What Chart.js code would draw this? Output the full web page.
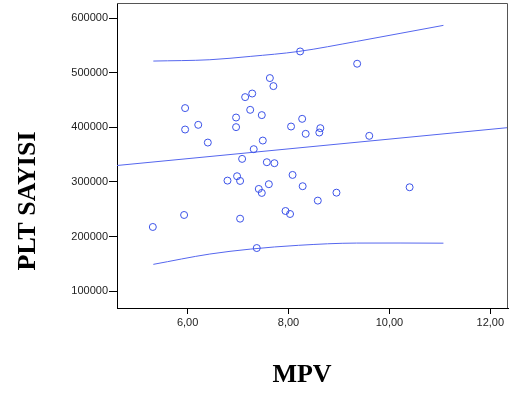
<!DOCTYPE html>
<html>
<head>
<meta charset="utf-8">
<script src="https://cdn.jsdelivr.net/npm/chart.js@4.4.1/dist/chart.umd.min.js"></script>
<style>
  html, body { margin: 0; padding: 0; background: #ffffff; }
  #wrap { width: 509px; height: 394px; position: relative; }
</style>
</head>
<body>
<div id="wrap"><canvas id="c" width="509" height="394"></canvas></div>
<script>
// ---- Data ----
const mpv = [5.31, 5.93, 5.95, 5.95, 6.21, 6.40, 6.79, 6.96, 6.96, 6.98, 7.04, 7.04, 7.08, 7.14,
  7.28, 7.24, 7.31, 7.37, 7.41, 7.47, 7.47, 7.49, 7.57, 7.61, 7.63, 7.70, 7.72, 7.94, 8.03,
  8.05, 8.08, 8.23, 8.27, 8.28, 8.34, 8.58, 8.61, 8.63, 8.95, 9.36, 9.60, 10.40];
const plt = [217500, 239500, 435400, 396100, 404700, 372200, 302500, 418100, 400500, 310500,
  301900, 232700, 342300, 455500, 462100, 432200, 360100, 178900, 287200, 279900, 422500,
  375900, 336200, 295900, 490400, 475700, 334400, 246800, 241300, 401600, 312900, 539200,
  415700, 292200, 388200, 265800, 390600, 398600, 280400, 516700, 384500, 290300];

// fit line (read at plot edges)
const fitX = [4.6, 12.35];
const fitY = [330200, 399600];

// interval curves
const bandX = [5.32, 6.44, 7.24, 8.20, 9.35, 10.21, 11.07];
const upperY = [521600, 524000, 530100, 539200, 557600, 572300, 587000];
const lowerY = [149000, 167900, 176900, 183900, 188000, 188100, 187800];

// axis ticks
const xTicks = [6, 8, 10, 12];
const yTicks = [100000, 200000, 300000, 400000, 500000, 600000];
const xTitle = 'MPV';
const yTitle = 'PLT SAYISI';

const zip = (xs, ys) => xs.map((x, i) => ({ x: x, y: ys[i] }));

const lineColor = '#5566ee';
const pointColor = '#3b52e8';

const framePlugin = {
  id: 'frame',
  afterDraw(chart) {
    const ctx = chart.ctx;
    const a = chart.chartArea;
    ctx.save();
    ctx.strokeStyle = '#555555';
    ctx.lineWidth = 1;
    ctx.beginPath();
    ctx.moveTo(a.left, a.top + 0.5);
    ctx.lineTo(a.right - 0.5, a.top + 0.5);
    ctx.lineTo(a.right - 0.5, a.bottom);
    ctx.stroke();
    // titles
    ctx.fillStyle = '#000000';
    ctx.font = 'bold 26px "Liberation Serif", "Times New Roman", serif';
    ctx.textAlign = 'center';
    ctx.textBaseline = 'middle';
    ctx.fillText(xTitle, 302, 375);
    ctx.translate(28, 201);
    ctx.rotate(-Math.PI / 2);
    ctx.fillText(yTitle, 0, 0);
    ctx.restore();
  }
};

new Chart(document.getElementById('c'), {
  type: 'scatter',
  data: {
    datasets: [
      {
        data: zip(fitX, fitY), showLine: true, borderColor: lineColor, borderWidth: 1,
        pointRadius: 0, fill: false, order: 2
      },
      {
        data: zip(bandX, upperY), showLine: true, borderColor: lineColor, borderWidth: 1,
        pointRadius: 0, fill: false, tension: 0.4, cubicInterpolationMode: 'monotone', order: 2
      },
      {
        data: zip(bandX, lowerY), showLine: true, borderColor: lineColor, borderWidth: 1,
        pointRadius: 0, fill: false, tension: 0.4, cubicInterpolationMode: 'monotone', order: 2
      },
      {
        data: zip(mpv, plt), showLine: false, pointStyle: 'circle', pointRadius: 3.5,
        pointBorderWidth: 1, borderColor: pointColor, backgroundColor: 'rgba(0,0,0,0)',
        pointBackgroundColor: 'rgba(0,0,0,0)', pointBorderColor: pointColor, order: 1
      }
    ]
  },
  options: {
    responsive: false,
    animation: false,
    layout: { autoPadding: false, padding: { left: 0, right: 1, top: 3, bottom: 0 } },
    plugins: { legend: { display: false }, tooltip: { enabled: false } },
    scales: {
      x: {
        type: 'linear', min: 4.6, max: 12.35,
        afterBuildTicks: (s) => { s.ticks = xTicks.map(v => ({ value: v })); },
        afterFit: (s) => { s.height = 86; s.paddingLeft = 0; s.paddingRight = 0; },
        grid: { drawOnChartArea: false, drawTicks: true, tickLength: 6, color: '#000000' },
        border: { display: true, color: '#000000', width: 1 },
        ticks: {
          color: '#222222', padding: 2, maxRotation: 0,
          font: { family: '"Liberation Sans", Arial, sans-serif', size: 11 },
          callback: (v) => Number(v).toFixed(2).replace('.', ',')
        }
      },
      y: {
        type: 'linear', min: 69000, max: 628000,
        afterBuildTicks: (s) => { s.ticks = yTicks.map(v => ({ value: v })); },
        afterFit: (s) => { s.width = 117; s.paddingTop = 0; s.paddingBottom = 0; },
        grid: { drawOnChartArea: false, drawTicks: true, tickLength: 8, color: '#000000' },
        border: { display: true, color: '#000000', width: 1 },
        ticks: {
          color: '#222222', padding: 1,
          font: { family: '"Liberation Sans", Arial, sans-serif', size: 11 },
          callback: (v) => String(v)
        }
      }
    }
  },
  plugins: [framePlugin]
});
</script>
</body>
</html>
